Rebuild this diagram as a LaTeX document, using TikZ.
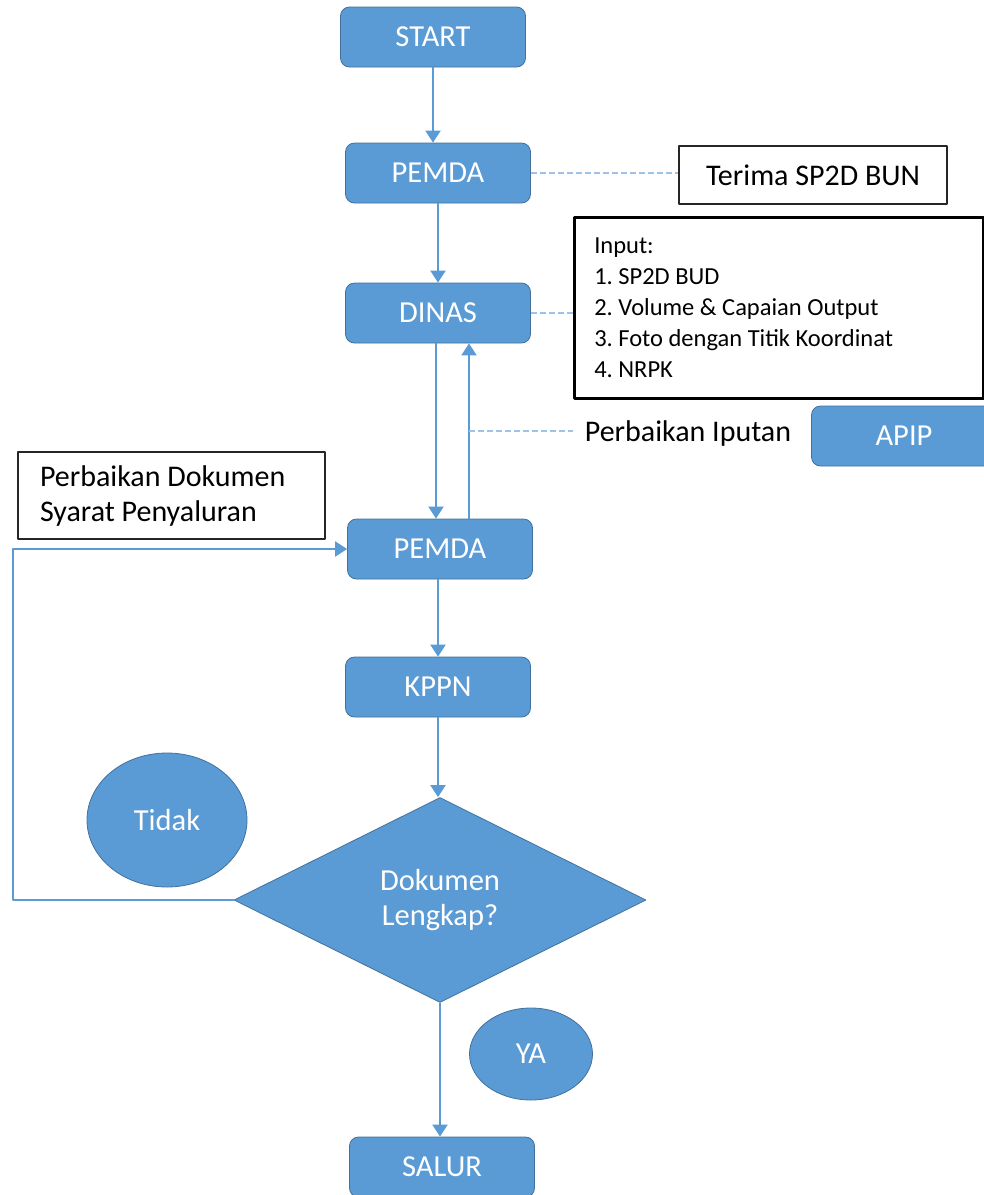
\documentclass[tikz,border=0pt]{standalone}
\usepackage{fontspec}
\setmainfont{Carlito}
\usetikzlibrary{arrows.meta,shapes.geometric}
\definecolor{biru}{HTML}{5B9BD5}
\definecolor{birutua}{HTML}{41719C}
\definecolor{birumuda}{HTML}{9DC3E6}
\newcommand\rapat{\spaceskip=0pt\xspaceskip=0pt\relax}
\tikzset{
  blok/.style={draw=birutua, fill=biru, line width=0.8pt, rounded corners=9pt,
    minimum width=185pt, minimum height=60pt, inner sep=0pt, text=white,
    font=\fontsize{30.5}{34}\selectfont},
  bulat/.style={ellipse, draw=birutua, fill=biru, line width=0.8pt, inner sep=0pt,
    text=white, font=\fontsize{30.5}{34}\selectfont},
  kotak/.style={draw=black!85, line width=1.5pt, fill=white, inner sep=0pt,
    font=\fontsize{30}{35}\selectfont},
  alir/.style={draw=biru, line width=2.2pt, -{Triangle[width=15pt,length=12pt]}},
  garis/.style={draw=birumuda, line width=1.8pt, dash pattern=on 6pt off 3pt},
}
\begin{document}
\frenchspacing
\begin{tikzpicture}[x=1pt, y=-1pt, line join=round]
\useasboundingbox (0,0) rectangle (984,1195);
% kotak proses
\foreach \n/\x/\y/\t in {start/433/37/START, pemdaA/438/173/PEMDA, dinas/438/313/DINAS,
  pemdaB/440/549/PEMDA, kppn/438/687/KPPN, salur/442/1167/SALUR, apip/904/436/APIP}
  \node[blok] (\n) at (\x,\y) {\t};
\node[diamond, aspect=2, draw=birutua, fill=biru, line width=0.8pt, inner sep=0pt,
  minimum width=412pt, minimum height=205pt, text=white, align=center,
  font=\fontsize{30.5}{35}\selectfont] (cek) at (440,900) {Dokumen\\Lengkap?};
\node[bulat, minimum width=160pt, minimum height=134pt] (tidak) at (167,820) {Tidak};
\node[bulat, minimum width=123pt, minimum height=92pt] (ya) at (531,1054) {YA};
% catatan
\node[kotak, minimum width=268pt, minimum height=58pt] (terima) at (813,175) {Terima SP2D BUN};
\node[kotak, draw=black, line width=2.5pt, anchor=north west, minimum width=409pt,
  minimum height=181pt, inner xsep=20pt, text width=369pt, align=left,
  font=\fontsize{24.5}{31}\selectfont] (input) at (573,216)
  {\rapat Input:\\1. SP2D BUD\\2. Volume \& Capaian Output\\3. Foto dengan Titik Koordinat\\4. NRPK};
\node[kotak, minimum width=307pt, minimum height=87pt, inner xsep=22pt,
  text width=263pt, align=left] (dokumen) at (171.5,495.5)
  {\rapat Perbaikan Dokumen\\Syarat Penyaluran};
\node[inner sep=0pt, inner xsep=12pt, font=\fontsize{30}{35}\selectfont] (iputan) at (688,433) {Perbaikan Iputan};
% alur
\draw[alir] (start.south) -- (start.south |- pemdaA.north);
\draw[alir] (pemdaA) -- (dinas);
\draw[alir] ([xshift=-2pt]dinas.south) -- ([xshift=-2pt]dinas.south |- pemdaB.north);
\draw[alir] ([xshift=29pt]pemdaB.north) -- ([xshift=29pt]pemdaB.north |- dinas.south);
\draw[alir] (pemdaB.south -| kppn.north) -- (kppn.north);
\draw[alir] (kppn.south) -- (kppn.south |- cek.north);
\draw[alir] (cek.south) -- (cek.south |- salur.north);
\draw[alir] (cek.west) -- ++(-221,0) |- (pemdaB.west);
% garis putus
\coordinate (cabang) at (469,431);
\draw[garis] (cabang) -- (cabang -| iputan.west);
\draw[garis] (pemdaA.east) -- (pemdaA.east -| terima.west);
\draw[garis] (dinas.east) -- (dinas.east -| input.west);
\end{tikzpicture}
\end{document}
